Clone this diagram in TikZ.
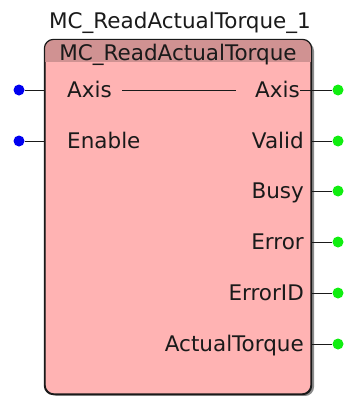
\documentclass[tikz,border=0pt]{standalone}
\usepackage{fontspec}
\setmainfont{DejaVu Sans}
\usetikzlibrary{positioning,calc,shadows}
\definecolor{Body}{HTML}{FFB3B3}
\definecolor{Band}{HTML}{D09292}
\definecolor{Ink}{HTML}{1A1A1A}
\definecolor{InPin}{HTML}{0000F0}
\definecolor{OutPin}{HTML}{10EE10}
\tikzset{
  fbbox/.style={draw=Ink,line width=1.2pt,fill=Body,rounded corners=9pt,minimum width=266pt,minimum height=354pt,
    drop shadow={shadow xshift=3pt,shadow yshift=-2pt,fill=black,opacity=0.45}},
  fbtitle/.style={font=\fontsize{21.5}{23}\selectfont,text=Ink,inner sep=0pt,text height=15pt,text depth=0pt},
  pinlabel/.style={font=\fontsize{21.5}{23}\selectfont,text=Ink,inner sep=0pt,text height=15pt,text depth=0pt},
  indot/.style={circle,fill=InPin,minimum size=11pt,inner sep=0pt},
  outdot/.style={circle,fill=OutPin,minimum size=11pt,inner sep=0pt},
  wire/.style={draw=Ink,line width=0.9pt}
}

\begin{document}
\begin{tikzpicture}[x=1pt,y=-1pt]
  \useasboundingbox (0,0) rectangle (343,396);
  \node[fbbox] (fb) at (178,217) {};
  % type band on top of the block
  \begin{scope}
    \clip[rounded corners=9pt] (fb.north west) rectangle (fb.south east);
    \fill[Band] (fb.north west) rectangle ([yshift=-23pt]fb.north east);
  \end{scope}
  \draw[Ink,line width=1.2pt,rounded corners=9pt] (fb.north west) rectangle (fb.south east);
  \node[fbtitle] (inst) at (180,21) {MC\_ReadActualTorque\_1};
  \node[fbtitle] (type) at (178,53) {MC\_ReadActualTorque};

  % inputs
  \node[pinlabel,anchor=west] (axisIn) at (67,90) {Axis};
  \node[pinlabel,anchor=west] (enableIn) at (67,141) {Enable};
  \node[indot] (axisInDot) at (19,90) {};
  \node[indot] (enableInDot) at (19,141) {};
  \draw[wire] (axisInDot) -- (axisInDot -| fb.west);
  \draw[wire] (enableInDot) -- (enableInDot -| fb.west);

  % outputs
  \node[pinlabel,anchor=east] (axisOut) at (300,90) {Axis};
  \node[pinlabel,anchor=east] (validOut) at (304,141) {Valid};
  \node[pinlabel,anchor=east] (busyOut) at (304,191) {Busy};
  \node[pinlabel,anchor=east] (errorOut) at (304,242) {Error};
  \node[pinlabel,anchor=east] (errorIdOut) at (304,293) {ErrorID};
  \node[pinlabel,anchor=east] (torqueOut) at (304,344) {ActualTorque};
  \node[outdot] (axisOutDot) at (338,90) {};
  \node[outdot] (validOutDot) at (338,141) {};
  \node[outdot] (busyOutDot) at (338,191) {};
  \node[outdot] (errorOutDot) at (338,242) {};
  \node[outdot] (errorIdOutDot) at (338,293) {};
  \node[outdot] (torqueOutDot) at (338,344) {};
  \draw[wire] (axisOut.east) -- (axisOutDot);
  \draw[wire] (validOutDot -| fb.east) -- (validOutDot);
  \draw[wire] (busyOutDot -| fb.east) -- (busyOutDot);
  \draw[wire] (errorOutDot -| fb.east) -- (errorOutDot);
  \draw[wire] (errorIdOutDot -| fb.east) -- (errorIdOutDot);
  \draw[wire] (torqueOutDot -| fb.east) -- (torqueOutDot);

  % in-out pass-through
  \draw[wire] ([xshift=10pt]axisIn.east) -- ([xshift=-19pt]axisOut.west);
\end{tikzpicture}
\end{document}
